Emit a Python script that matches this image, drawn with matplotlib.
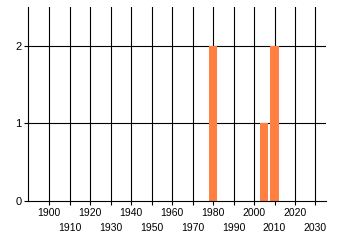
# Bar chart of counts per year
import matplotlib
matplotlib.use('Agg')
from matplotlib import pyplot as plt

years = [1980, 2005, 2010]
counts = [2, 1, 2]

major_years = [1900, 1920, 1940, 1960, 1980, 2000, 2020]
minor_years = [1910, 1930, 1950, 1970, 1990, 2010, 2030]
y_ticks = [0, 1, 2]

plt.rcParams['font.family'] = ['Liberation Sans', 'DejaVu Sans']

fig = plt.figure(figsize=(3.4, 2.45), dpi=100)
ax = fig.add_axes([0.0832, 0.1796, 0.958 - 0.0832, 0.9704 - 0.1796])

# vertical and horizontal grid lines
for yr in major_years + minor_years:
    ax.axvline(yr, color='black', linewidth=0.8, zorder=1)
for v in y_ticks[1:]:
    ax.axhline(v, color='black', linewidth=0.8, zorder=1)

# the bars
ax.bar(years, counts, width=4, color='#ff8040', zorder=2, antialiased=False)

ax.set_xlim(1889.75, 2035)
ax.set_ylim(0, 2.5)

ax.set_xticks(major_years)
ax.set_xticklabels([str(y) for y in major_years])
ax.set_xticks(minor_years, minor=True)
ax.set_xticklabels([str(y) for y in minor_years], minor=True)
ax.set_yticks(y_ticks)
ax.set_yticklabels([str(v) for v in y_ticks])

ax.tick_params(axis='x', which='major', length=3, width=0.8, pad=2, labelsize=7.5)
ax.tick_params(axis='x', which='minor', length=3, width=0.8, pad=12.5, labelsize=7.5)
ax.tick_params(axis='y', length=3, width=0.8, pad=2, labelsize=8)

for side in ['top', 'right']:
    ax.spines[side].set_visible(False)
for side in ['left', 'bottom']:
    ax.spines[side].set_linewidth(0.8)
    ax.spines[side].set_zorder(3)

plt.savefig('out.png', dpi=100)
